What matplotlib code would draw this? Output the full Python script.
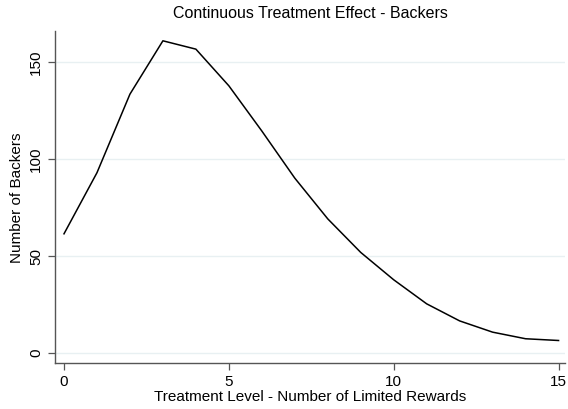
import matplotlib
matplotlib.use("Agg")
import matplotlib.pyplot as plt

# treatment level vs number of backers
levels = list(range(16))
backers = [61.5, 93, 133.5, 161, 156.7, 137.8, 114.5, 90.2, 69.2, 51.9,
           37.8, 25.4, 16.6, 10.8, 7.4, 6.5]
xticks = [0, 5, 10, 15]
yticks = [0, 50, 100, 150]

plt.rcParams['font.family'] = ['Liberation Sans', 'DejaVu Sans']

fig = plt.figure(figsize=(5.68, 4.09), dpi=100)
ax = fig.add_axes([0.097, 0.112, 0.898, 0.811])

for y in yticks:
    ax.axhline(y, color='#e8f0f2', lw=1.0, zorder=0)

ax.plot(levels, backers, color='black', lw=1.1)

ax.set_xlim(-0.27, 15.2)
ax.set_ylim(-5.2, 165.8)
ax.set_xticks(xticks)
ax.set_yticks(yticks)
ax.set_yticklabels([str(v) for v in yticks], rotation=90, va='center')
ax.tick_params(axis='both', labelsize=11, color='#555555', length=5, width=0.9)

for side in ['top', 'right']:
    ax.spines[side].set_visible(False)
for side in ['left', 'bottom']:
    ax.spines[side].set_color('#555555')
    ax.spines[side].set_linewidth(1.0)

ax.set_title("Continuous Treatment Effect - Backers", fontsize=11.5, pad=10)
ax.set_xlabel("Treatment Level - Number of Limited Rewards", fontsize=11, labelpad=1)
ax.set_ylabel("Number of Backers", fontsize=11, labelpad=4)

fig.savefig("out.png", dpi=100)
